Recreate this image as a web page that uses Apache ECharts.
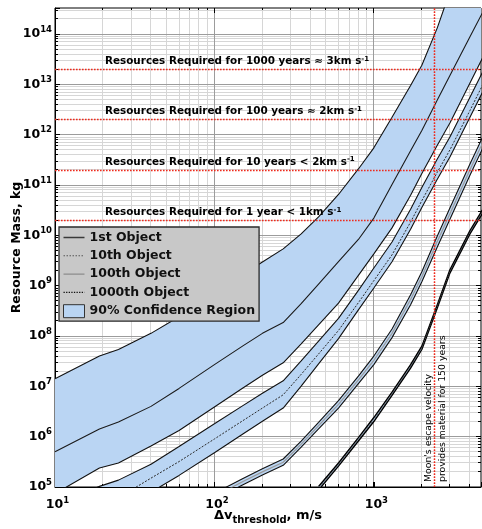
<!DOCTYPE html>
<html><head><meta charset="utf-8">
<script src="https://cdn.jsdelivr.net/npm/echarts@6/dist/echarts.min.js"></script>
<style>html,body{margin:0;padding:0;background:#fff}#c{width:482px;height:529px}</style>
</head><body><div id="c"></div>
<script>
// ---------------- data ----------------
const velocity = [10, 19, 25, 40, 60, 100, 150, 200, 270, 350, 450, 600, 800, 1000, 1300, 1700, 2000, 2500, 3000, 4000, 5000];
const obj1Upper  = [1.42e7, 4.0e7, 5.4e7, 1.13e8, 2.42e8, 7.0e8, 1.65e9, 2.97e9, 5.4e9, 1.07e10, 2.33e10, 6.5e10, 2.09e11, 5.5e11, 2.22e12, 9.5e12, 2.4e13, 1.33e14, 7.0e14, null, null];
const obj1Median = [5.0e5, 1.42e6, 1.95e6, 4.0e6, 9.1e6, 2.7e7, 6.3e7, 1.13e8, 1.85e8, 4.4e8, 1.08e9, 3.0e9, 8.3e9, 2.21e10, 1.03e11, 4.8e11, 1.22e12, 4.9e12, 1.51e13, 8.8e13, 3.4e14];
const obj1Lower  = [7.4e4, 2.38e5, 3.0e5, 6.5e5, 1.33e6, 3.9e6, 9.2e6, 1.66e7, 2.94e7, 7.0e7, 1.66e8, 4.5e8, 1.6e9, 4.3e9, 1.41e10, 6.3e10, 1.69e11, 6.2e11, 1.71e12, 1.05e13, 4.3e13];
const obj10Upper  = [4.2e4, 1.03e5, 1.37e5, 2.84e5, 6.4e5, 1.8e6, 4.1e6, 7.3e6, 1.29e7, 3.2e7, 7.9e7, 2.25e8, 8.1e8, 2.25e9, 7.4e9, 3.3e10, 8.9e10, 3.3e11, 9.0e11, 5.5e12, 2.26e13];
const obj10Median = [1.07e4, 3.6e4, 6.1e4, 1.5e5, 3.2e5, 9.0e5, 2.06e6, 3.7e6, 6.8e6, 1.73e7, 4.4e7, 1.29e8, 4.6e8, 1.26e9, 4.1e9, 1.84e10, 4.9e10, 1.8e11, 5.0e11, 3.0e12, 1.25e13];
const obj10Lower  = [5.6e3, 1.9e4, 3.2e4, 7.9e4, 1.7e5, 4.8e5, 1.12e6, 2.03e6, 3.7e6, 1.01e7, 2.8e7, 8.9e7, 3.3e8, 9.0e8, 3.0e9, 1.33e10, 3.6e10, 1.3e11, 3.6e11, 2.2e12, 9.0e12];

const velocity100 = [100, 150, 200, 270, 350, 450, 600, 800, 1000, 1300, 1700, 2000, 2500, 3000, 4000, 5000];
const obj100Upper  = [7.5e4, 1.46e5, 2.3e5, 3.6e5, 8.2e5, 1.93e6, 5.2e6, 1.6e7, 4.0e7, 1.38e8, 6.6e8, 1.9e9, 9.7e9, 3.5e10, 2.6e11, 1.15e12];
const obj100Median = [6.5e4, 1.27e5, 2.0e5, 3.1e5, 7.1e5, 1.66e6, 4.4e6, 1.35e7, 3.3e7, 1.13e8, 5.3e8, 1.51e9, 7.6e9, 2.7e10, 2.0e11, 8.9e11];
const obj100Lower  = [5.6e4, 1.1e5, 1.74e5, 2.7e5, 6.2e5, 1.43e6, 3.7e6, 1.13e7, 2.7e7, 9.3e7, 4.2e8, 1.2e9, 5.9e9, 2.1e10, 1.55e11, 6.9e11];

const velocity1000 = [450, 600, 800, 1000, 1300, 1700, 2000, 2500, 3000, 4000, 5000];
const obj1000Upper  = [1.02e5, 3.0e5, 9.6e5, 2.4e6, 7.7e6, 2.7e7, 6.3e7, 4.2e8, 2.07e9, 1.23e10, 4.0e10];
const obj1000Median = [9.4e4, 2.8e5, 8.9e5, 2.2e6, 7.1e6, 2.5e7, 5.8e7, 3.9e8, 1.92e9, 1.14e10, 3.7e10];
const obj1000Lower  = [8.7e4, 2.6e5, 8.2e5, 2.0e6, 6.6e6, 2.3e7, 5.4e7, 3.6e8, 1.78e9, 1.06e10, 3.4e10];

const resourceLevels = [2e10, 2e11, 2e12, 2e13];
const resourceTexts = ['Resources Required for 1 year < 1km s', 'Resources Required for 10 years < 2km s',
                       'Resources Required for 100 years \u2248 2km s', 'Resources Required for 1000 years \u2248 3km s'];
const moonEscapeVelocity = 2380;
const moonTexts = ["Moon's escape velocity", 'provides material for 150 years'];
const legendNames = ['1st Object', '10th Object', '100th Object', '1000th Object', '90% Confidence Region'];

// axis extents and tick helpers
const X_MIN = 10, X_MAX = 4700, Y_MIN = 1e5, Y_MAX = 3.3e14;
const gridMantissas = [2, 3, 4, 5, 6, 7, 8, 9];
const xDecades = [10, 100, 1000];
const yDecades = [1e5, 1e6, 1e7, 1e8, 1e9, 1e10, 1e11, 1e12, 1e13, 1e14];
const xMajorInner = [100, 1000];
const yMajorInner = [1e6, 1e7, 1e8, 1e9, 1e10, 1e11, 1e12, 1e13, 1e14];

// ---------------- drawing ----------------
const FONT = '"DejaVu Sans", Verdana, sans-serif';
const BLUE = '#bad5f3';
const RED = '#ee2a1c';

const xMinor = [];
xDecades.forEach(d => gridMantissas.forEach(m => { if (d * m < X_MAX) xMinor.push(d * m); }));
const yMinor = [];
yDecades.forEach(d => gridMantissas.forEach(m => { if (d * m < Y_MAX) yMinor.push(d * m); }));

function crisp(v) { return Math.round(v - 0.5) + 0.5; }

function vGridSeries(values, color, tickLen) {
  return {
    type: 'custom', coordinateSystem: 'cartesian2d', silent: true, z: 0,
    data: values.map(v => [v, Y_MIN]),
    renderItem(params, api) {
      const a = api.coord([api.value(0), Y_MIN]);
      const b = api.coord([api.value(0), Y_MAX]);
      const x = crisp(a[0]);
      return {type: 'group', children: [
        {type: 'line', shape: {x1: x, y1: a[1], x2: x, y2: b[1]}, style: {stroke: color, lineWidth: 1}},
        {type: 'line', shape: {x1: x, y1: a[1], x2: x, y2: a[1] - tickLen}, style: {stroke: '#000', lineWidth: 1}},
        {type: 'line', shape: {x1: x, y1: b[1], x2: x, y2: b[1] + tickLen}, style: {stroke: '#000', lineWidth: 1}}
      ]};
    }
  };
}
function hGridSeries(values, color, tickLen) {
  return {
    type: 'custom', coordinateSystem: 'cartesian2d', silent: true, z: 0,
    data: values.map(v => [X_MIN, v]),
    renderItem(params, api) {
      const a = api.coord([X_MIN, api.value(1)]);
      const b = api.coord([X_MAX, api.value(1)]);
      const y = crisp(a[1]);
      return {type: 'group', children: [
        {type: 'line', shape: {x1: a[0], y1: y, x2: b[0], y2: y}, style: {stroke: color, lineWidth: 1}},
        {type: 'line', shape: {x1: a[0], y1: y, x2: a[0] + tickLen, y2: y}, style: {stroke: '#000', lineWidth: 1}},
        {type: 'line', shape: {x1: b[0], y1: y, x2: b[0] - tickLen, y2: y}, style: {stroke: '#000', lineWidth: 1}}
      ]};
    }
  };
}

function bandSeries(name, xs, upper, lower) {
  return {
    type: 'custom', name, coordinateSystem: 'cartesian2d', silent: true, z: 1, clip: true,
    itemStyle: {color: BLUE},
    data: [[xs[0], lower[0]]],
    renderItem(params, api) {
      const pts = [];
      for (let i = 0; i < xs.length; i++) pts.push(api.coord([xs[i], upper[i] == null ? Y_MAX * 100 : upper[i]]));
      for (let i = xs.length - 1; i >= 0; i--) pts.push(api.coord([xs[i], lower[i]]));
      const cs = params.coordSys;
      return {
        type: 'polygon', shape: {points: pts}, style: {fill: BLUE, stroke: null},
        clipPath: {type: 'rect', shape: {x: cs.x, y: cs.y, width: cs.width, height: cs.height}}
      };
    }
  };
}

function lineSeries(name, xs, ys, lineStyle, z) {
  const data = [];
  xs.forEach((x, i) => { if (ys[i] != null) data.push([x, ys[i]]); });
  return {type: 'line', name, data, showSymbol: false, symbol: 'none', silent: true, clip: true,
          z: z || 3, lineStyle, itemStyle: {color: lineStyle.color}, emphasis: {disabled: true}};
}

const bound = {color: '#111', width: 1.1, type: 'solid'};
const boundD = {color: '#000', width: 1.4, type: 'solid'};

function expLabel(v) {
  const e = Math.log10(v);
  const r = Math.round(e);
  if (Math.abs(e - r) > 1e-6) return '';
  return '{b|10}{s|' + r + '}';
}

const richY = {
  b: {fontFamily: FONT, fontWeight: 'bold', fontSize: 12.5, color: '#000', lineHeight: 18},
  s: {fontFamily: FONT, fontWeight: 'bold', fontSize: 8.5, color: '#000', lineHeight: 8, verticalAlign: 'top'}
};
const richX = {
  b: {fontFamily: FONT, fontWeight: 'bold', fontSize: 12.5, color: '#000', lineHeight: 18, padding: [0, 0, 0, 5]},
  s: {fontFamily: FONT, fontWeight: 'bold', fontSize: 8.5, color: '#000', lineHeight: 8, verticalAlign: 'top'}
};
const richNote = {
  t: {fontFamily: FONT, fontWeight: 'bold', fontSize: 10.4, color: '#000', lineHeight: 12},
  u: {fontFamily: FONT, fontWeight: 'bold', fontSize: 7, color: '#000', lineHeight: 7, verticalAlign: 'top'}
};

// legend icon shapes (21 x 13 box; zero-length corner moves fix the box size)
function lineIcon(dash, gap, thick) {
  let p = 'path://M0,0L0,0ZM21,13L21,13Z';
  const y0 = 6.5 - thick / 2;
  if (!dash) return p + 'M0,' + y0 + 'h21v' + thick + 'h-21Z';
  for (let x = 0; x < 21; x += dash + gap) {
    const w = Math.min(dash, 21 - x);
    p += 'M' + x + ',' + y0 + 'h' + w + 'v' + thick + 'h-' + w + 'Z';
  }
  return p;
}

const markData = resourceLevels.map((lvl, i) => ({
  yAxis: lvl,
  label: {show: true, position: 'insideStartTop', distance: [50, 2],
          formatter: '{t|' + resourceTexts[i] + '}{u|-1}', rich: richNote}
}));
markData.push({xAxis: moonEscapeVelocity,
  label: {show: true, position: 'insideStartTop', distance: [5, 1], formatter: moonTexts[0],
          fontFamily: FONT, fontSize: 9.3, color: '#000'}});
markData.push({xAxis: moonEscapeVelocity,
  label: {show: true, position: 'insideStartBottom', distance: [5, 4], formatter: moonTexts[1],
          fontFamily: FONT, fontSize: 9.3, color: '#000'}});

const series = [
  vGridSeries(xMinor, '#d6d6d6', 3),
  hGridSeries(yMinor, '#d6d6d6', 3),
  vGridSeries(xMajorInner, '#9c9c9c', 5),
  hGridSeries(yMajorInner, '#9c9c9c', 5),
  bandSeries(legendNames[4], velocity, obj1Upper, obj1Lower),
  bandSeries('band10', velocity, obj10Upper, obj10Lower),
  bandSeries('band100', velocity100, obj100Upper, obj100Lower),
  bandSeries('band1000', velocity1000, obj1000Upper, obj1000Lower),
  lineSeries('u1', velocity, obj1Upper, bound),
  lineSeries('l1', velocity, obj1Lower, bound),
  lineSeries(legendNames[0], velocity, obj1Median, {color: '#1a1a1a', width: 1.1, type: 'solid'}),
  lineSeries('u10', velocity, obj10Upper, bound),
  lineSeries('l10', velocity, obj10Lower, bound),
  lineSeries(legendNames[1], velocity, obj10Median, {color: '#2a2a2a', width: 1, type: [2, 1.5]}),
  lineSeries('u100', velocity100, obj100Upper, bound),
  lineSeries('l100', velocity100, obj100Lower, bound),
  lineSeries(legendNames[2], velocity100, obj100Median, {color: '#9a9a9a', width: 1.2, type: 'solid'}),
  lineSeries('u1000', velocity1000, obj1000Upper, boundD),
  lineSeries('l1000', velocity1000, obj1000Lower, boundD),
  lineSeries(legendNames[3], velocity1000, obj1000Median, {color: '#444', width: 1, type: 'dotted'}, 4),
  {
    type: 'line', name: 'markers', data: [], silent: true, z: 5,
    markLine: {silent: true, symbol: ['none', 'none'], animation: false,
               lineStyle: {color: RED, type: [1.6, 1.4], width: 1.3}, data: markData}
  }
];

const option = {
  animation: false,
  backgroundColor: '#fff',
  grid: {left: 55, right: 1, top: 8, bottom: 42, show: true, borderColor: '#000', borderWidth: 1,
         backgroundColor: 'transparent', containLabel: false, outerBoundsMode: 'none'},
  xAxis: {
    type: 'log', logBase: 10, min: X_MIN, max: X_MAX,
    axisLine: {show: true, lineStyle: {color: '#000', width: 1}},
    axisTick: {show: true, inside: true, length: 5, lineStyle: {color: '#000'}},
    splitLine: {show: false},
    axisLabel: {formatter: expLabel, margin: 9, rich: richX, showMinLabel: true},
    name: '{n|\u0394v}{sub|threshold}{n|, m/s}', nameLocation: 'middle', nameGap: 22, nameMoveOverlap: false,
    nameTextStyle: {rich: {
      n: {fontFamily: FONT, fontWeight: 'bold', fontSize: 13, color: '#000', lineHeight: 16, verticalAlign: 'top'},
      sub: {fontFamily: FONT, fontWeight: 'bold', fontSize: 10, color: '#000', lineHeight: 10, padding: [10, 0, 0, 0], verticalAlign: 'bottom'}
    }}
  },
  yAxis: {
    type: 'log', logBase: 10, min: Y_MIN, max: Y_MAX,
    axisLine: {show: true, lineStyle: {color: '#000', width: 1}},
    axisTick: {show: true, inside: true, length: 5, lineStyle: {color: '#000'}},
    splitLine: {show: false},
    axisLabel: {formatter: expLabel, margin: 3, rich: richY},
    name: 'Resource Mass, kg', nameLocation: 'middle', nameGap: 32, nameMoveOverlap: false,
    nameTextStyle: {fontFamily: FONT, fontWeight: 'bold', fontSize: 12.5, color: '#000'}
  },
  legend: {
    left: 59, top: 227, orient: 'vertical', z: 10, selectedMode: false,
    backgroundColor: '#c8c8c8', borderColor: '#2a2a2a', borderWidth: 1.3, borderRadius: 0,
    padding: [4, 4, 3, 4], itemGap: 5.3, itemWidth: 21, itemHeight: 13,
    textStyle: {fontFamily: FONT, fontWeight: 'bold', fontSize: 12.5, color: '#111', lineHeight: 13},
    data: [
      {name: legendNames[0], icon: lineIcon(0, 0, 1.6), itemStyle: {color: '#3a3a3a', borderWidth: 0}},
      {name: legendNames[1], icon: lineIcon(1.5, 1.5, 1.1), itemStyle: {color: '#555', borderWidth: 0}},
      {name: legendNames[2], icon: lineIcon(0, 0, 1.2), itemStyle: {color: '#8c8c8c', borderWidth: 0}},
      {name: legendNames[3], icon: lineIcon(1.3, 1.3, 1.2), itemStyle: {color: '#111', borderWidth: 0}},
      {name: legendNames[4], icon: 'rect', itemStyle: {color: BLUE, borderColor: '#333', borderWidth: 1}}
    ]
  },
  series
};

const chart = echarts.init(document.getElementById('c'), null, {renderer: 'canvas', width: 482, height: 529});
chart.setOption(option);
</script></body></html>
